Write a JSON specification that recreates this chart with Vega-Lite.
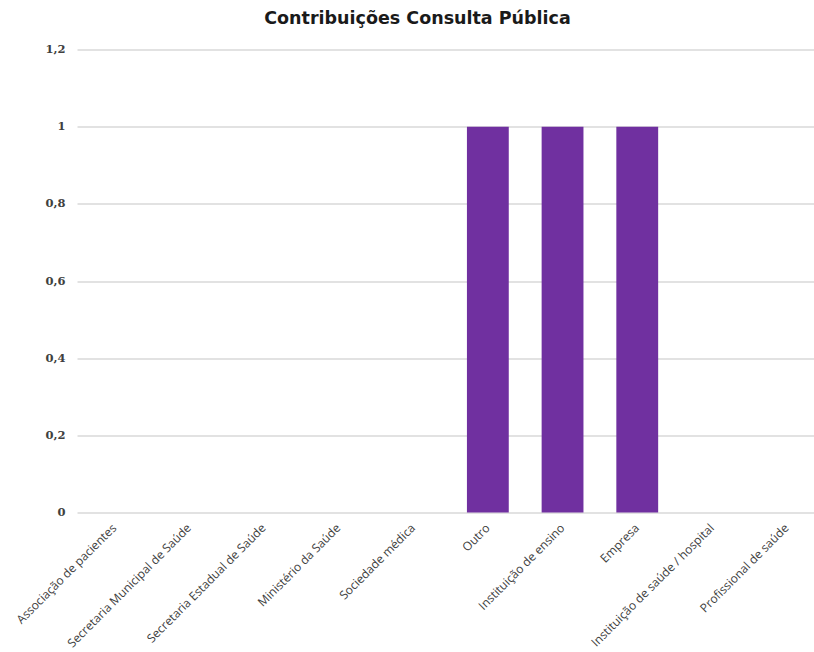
{
  "$schema": "https://vega.github.io/schema/vega-lite/v6.json",
  "autosize": {"type": "none"},
  "padding": {"left": 77, "top": 49.5, "right": 0, "bottom": 139.5},
  "width": 747,
  "height": 463,
  "background": "white",
  "title": {
    "text": "Contribuições Consulta Pública",
    "font": "DejaVu Sans",
    "fontSize": 17.5,
    "fontWeight": "bold",
    "color": "#1a1a1a",
    "anchor": "middle",
    "dx": -33,
    "offset": 16
  },
  "data": {
    "values": [
      {"categoria": "Associação de pacientes", "valor": 0},
      {"categoria": "Secretaria Municipal de Saúde", "valor": 0},
      {"categoria": "Secretaria Estadual de Saúde", "valor": 0},
      {"categoria": "Ministério da Saúde", "valor": 0},
      {"categoria": "Sociedade médica", "valor": 0},
      {"categoria": "Outro", "valor": 1},
      {"categoria": "Instituição de ensino", "valor": 1},
      {"categoria": "Empresa", "valor": 1},
      {"categoria": "Instituição de saúde / hospital", "valor": 0},
      {"categoria": "Profissional de saúde", "valor": 0}
    ]
  },
  "mark": {"type": "bar", "color": "#7030A0"},
  "encoding": {
    "x": {
      "field": "categoria",
      "type": "nominal",
      "sort": null,
      "title": null,
      "scale": {"paddingInner": 0.44, "paddingOuter": 0.22},
      "axis": {
        "labelAngle": -45,
        "labelAlign": "right",
        "labelBaseline": "middle",
        "labelFont": "Open Sans",
        "labelFontSize": 12,
        "labelColor": "#404040",
        "labelPadding": 13,
        "labelLimit": 300,
        "ticks": false,
        "domain": false,
        "grid": false
      }
    },
    "y": {
      "field": "valor",
      "type": "quantitative",
      "title": null,
      "scale": {"domain": [0, 1.2], "nice": false},
      "axis": {
        "values": [0, 0.2, 0.4, 0.6, 0.8, 1, 1.2],
        "labelExpr": "replace(format(datum.value, '.1~f'), '.', ',')",
        "labelFont": "DejaVu Serif",
        "labelFontWeight": "bold",
        "labelFontSize": 11.5,
        "labelColor": "#404040",
        "labelPadding": 12,
        "ticks": false,
        "domain": false,
        "grid": true,
        "gridColor": "#d9d9d9",
        "gridWidth": 1.5
      }
    }
  },
  "config": {"view": {"stroke": null}}
}
